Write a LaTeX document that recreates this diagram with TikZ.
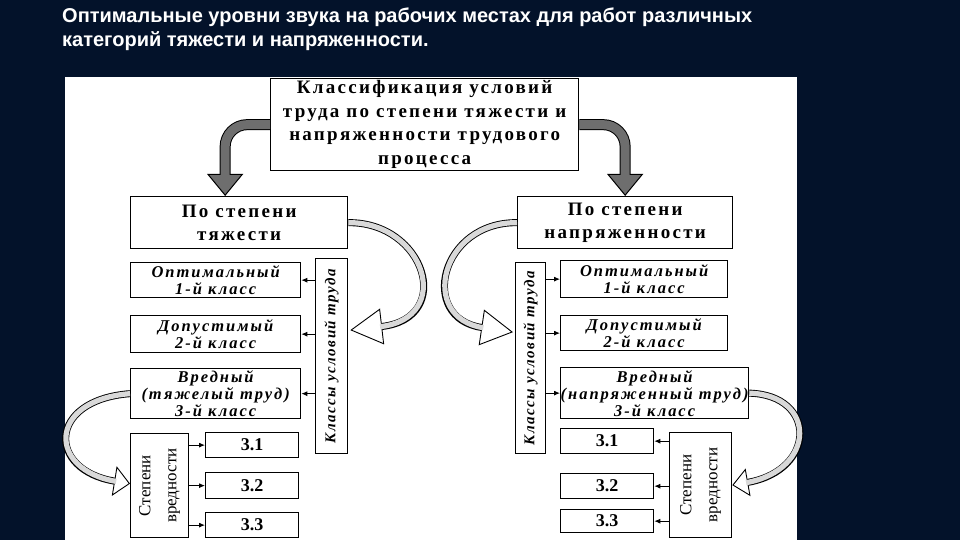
\documentclass[tikz,border=0pt]{standalone}
\usepackage{fontspec}
\setmainfont{Liberation Serif}
\newfontfamily\slidefont{Liberation Sans}
\usetikzlibrary{arrows.meta, positioning, calc}

\definecolor{slidebg}{HTML}{03122A}
\definecolor{bandgray}{HTML}{6E6E6E}
\definecolor{bandlight}{HTML}{D9D9D9}

\begin{document}
\begin{tikzpicture}[
  x=1pt, y=-1pt,
  box/.style   = {draw, line width=1.3pt, fill=white, align=center, inner sep=0pt, anchor=north west},
  head/.style  = {box, font=\bfseries\addfontfeature{LetterSpace=12}\fontsize{19}{23.5}\selectfont},
  cls/.style   = {box, font=\bfseries\itshape\addfontfeature{LetterSpace=12}\fontsize{16.5}{17}\selectfont},
  sub/.style   = {box, font=\bfseries\fontsize{18}{19}\selectfont},
  vtext/.style = {rotate=90, font=\bfseries\itshape\addfontfeature{LetterSpace=10}\fontsize{15}{16}\selectfont},
  vsub/.style  = {rotate=90, align=center, font=\fontsize{17}{26}\selectfont},
  tick/.style  = {-{Latex[length=6pt, width=5pt]}, line width=0.9pt},
  grayarrow/.style = {line width=11pt, rounded corners=22pt,
      -{Triangle[width=36pt, length=22pt, line width=1pt, fill=bandgray]},
      postaction={draw=bandgray, line width=9pt, -, shorten >=20pt}},
  hollow/.style 2 args = {line width=7pt,
      -{Triangle[width=#1, length=#2, line width=0.9pt, fill=white]},
      postaction={draw=bandlight, line width=5.2pt, -, shorten >=#2-2pt}},
]
  \useasboundingbox (0,0) rectangle (960,540);
  \fill[slidebg] (0,0) rectangle (960,540);
  \fill[white] (65,77) rectangle (797,540);

  \node[anchor=north west, text=white, align=left, inner sep=0pt,
        font=\slidefont\bfseries\fontsize{20}{24}\selectfont] (title) at (62,8)
    {Оптимальные уровни звука на рабочих местах для работ различных\\
     категорий тяжести и напряженности.};

  % top
  \node[head, minimum width=308pt, minimum height=92pt] (cls) at (270,78)
    {Классификация условий\\труда по степени тяжести и\\напряженности трудового\\процесса};
  \node[head, minimum width=217pt, minimum height=52pt] (lsev) at (130,196) {По степени\\тяжести};
  \node[head, minimum width=215pt, minimum height=52pt] (rnap) at (517,196) {По степени\\напряженности};

  \draw[grayarrow] (cls.west) -| ([xshift=-14pt]lsev.north);
  \draw[grayarrow] (cls.east) -| (rnap.north);

  % left column
  \node[cls, minimum width=170pt, minimum height=35pt] (lopt) at (130,262) {Оптимальный\\1-й класс};
  \node[cls, minimum width=170pt, minimum height=37pt] (ldop) at (130,315) {Допустимый\\2-й класс};
  \node[cls, minimum width=170pt, minimum height=50pt] (lvr)  at (130,368) {Вредный\\(тяжелый труд)\\3-й класс};
  \node[box, minimum width=32pt, minimum height=195pt,
        label={[vtext]center:Классы условий труда}] (lkl) at (315,258) {};
  \node[box, minimum width=58pt, minimum height=104pt,
        label={[vsub]center:Степени\\вредности}] (lst) at (130,433) {};
  \node[sub, minimum width=93pt, minimum height=25pt] (l31) at (205,432) {3.1};
  \node[sub, minimum width=93pt, minimum height=26pt] (l32) at (205,472) {3.2};
  \node[sub, minimum width=93pt, minimum height=25pt] (l33) at (205,512) {3.3};

  \foreach \b in {lopt, ldop, lvr}
    \draw[tick] (lkl.west |- \b.east) -- (\b.east);
  \foreach \b in {l31, l32, l33}
    \draw[tick] (lst.east |- \b.west) -- (\b.west);

  % right column
  \node[cls, minimum width=167pt, minimum height=37pt] (ropt) at (560,260) {Оптимальный\\1-й класс};
  \node[cls, minimum width=167pt, minimum height=35pt] (rdop) at (560,315) {Допустимый\\2-й класс};
  \node[cls, minimum width=167pt, minimum height=51pt] (rvr)  at (560,367) {Вредный\\(напряженный труд)\\3-й класс};
  \node[box, minimum width=30pt, minimum height=191pt,
        label={[vtext]center:Классы условий труда}] (rkl) at (515,262) {};
  \node[box, minimum width=62pt, minimum height=105pt,
        label={[vsub]center:Степени\\вредности}] (rst) at (669,432) {};
  \node[sub, minimum width=93pt, minimum height=25pt] (r31) at (560,428) {3.1};
  \node[sub, minimum width=93pt, minimum height=25pt] (r32) at (560,473) {3.2};
  \node[sub, minimum width=93pt, minimum height=23pt] (r33) at (560,509) {3.3};

  \foreach \b in {ropt, rdop, rvr}
    \draw[tick] (rkl.east |- \b.west) -- (\b.west);
  \foreach \b in {r31, r32, r33}
    \draw[tick] (rst.west |- \b.east) -- (\b.east);

  % curved open arrows
  \draw[hollow={36pt}{32pt}] (lsev.east) .. controls (425,222) and (455,318) .. ([xshift=2pt, yshift=26pt]lkl.east);
  \draw[hollow={36pt}{32pt}] (rnap.west) .. controls (440,222) and (418,318) .. ([xshift=-2pt, yshift=26pt]rkl.west);
  \draw[hollow={30pt}{16pt}] (lvr.west) .. controls (47,400) and (47,470) .. ([yshift=2pt]lst.west);
  \draw[hollow={28pt}{16pt}] (rvr.east) .. controls (817,395) and (817,470) .. (rst.east);
\end{tikzpicture}
\end{document}
